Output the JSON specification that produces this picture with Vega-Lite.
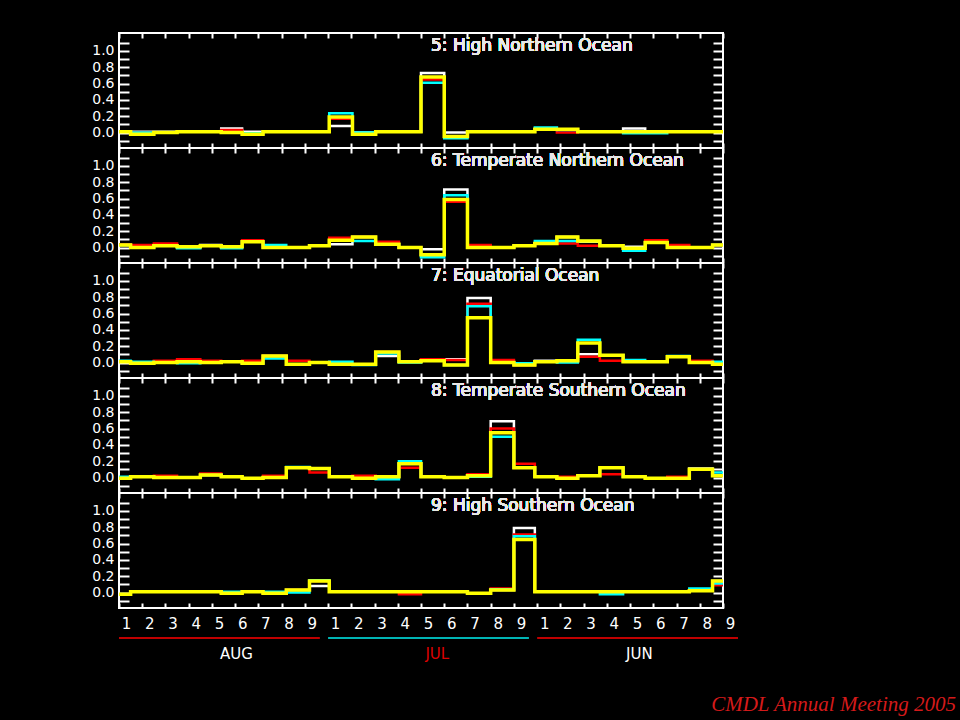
{
"$schema": "https://vega.github.io/schema/vega-lite/v6.json",
"background": "black",
"padding": {"left": 90, "top": 31, "right": 5, "bottom": 5},
"spacing": 0,
"bounds": "flush",
"config": {
  "view": {"stroke": "white", "strokeWidth": 2},
  "axis": {"tickColor": "white", "tickWidth": 2, "labelColor": "white", "labelFont": "DejaVu Sans", "labelFontSize": 14, "grid": false, "domain": false, "labelFlush": false, "labelOverlap": false},
  "text": {"font": "DejaVu Sans"}
},
"title": {"text": "CMDL Annual Meeting 2005", "orient": "bottom", "anchor": "end", "frame": "group", "dx": 233, "offset": 26, "color": "#d41a1a", "font": "Liberation Serif", "fontStyle": "italic", "fontWeight": "normal", "fontSize": 21},
"datasets": {
"p5": [
{"x":0,"w":0.01,"r":0.01,"c":0.01,"yel":0.01},
{"x":0.5,"w":0.01,"r":0,"c":0,"yel":-0.02},
{"x":1.5,"w":0.01,"r":0,"c":0,"yel":0},
{"x":2.5,"w":0.01,"r":0.01,"c":0.01,"yel":0.01},
{"x":3.5,"w":0.01,"r":0.01,"c":0.01,"yel":0.01},
{"x":4.4,"w":0.05,"r":0.03,"c":0,"yel":0},
{"x":5.3,"w":0.01,"r":-0.01,"c":-0.01,"yel":-0.02},
{"x":6.2,"w":0.01,"r":0.01,"c":0.01,"yel":0.01},
{"x":7.2,"w":0.01,"r":0.01,"c":0.01,"yel":0.01},
{"x":8.2,"w":0.01,"r":0.01,"c":0.01,"yel":0.01},
{"x":9.05,"w":0.08,"r":0.17,"c":0.235,"yel":0.19},
{"x":10.05,"w":0,"r":-0.02,"c":0,"yel":-0.02},
{"x":11.05,"w":0.01,"r":0.01,"c":0.01,"yel":0.01},
{"x":12.05,"w":0.01,"r":0.01,"c":0.01,"yel":0.01},
{"x":13,"w":0.73,"r":0.65,"c":0.61,"yel":0.68},
{"x":14,"w":0,"r":-0.05,"c":-0.07,"yel":-0.05},
{"x":15,"w":0.01,"r":0.01,"c":0.01,"yel":0.01},
{"x":16,"w":0.01,"r":0.01,"c":0.01,"yel":0.01},
{"x":17,"w":0.01,"r":0.01,"c":0.01,"yel":0.01},
{"x":17.9,"w":0.04,"r":0.04,"c":0.06,"yel":0.04},
{"x":18.85,"w":0.04,"r":0,"c":0.03,"yel":0.04},
{"x":19.75,"w":0.01,"r":0.01,"c":0.01,"yel":0.01},
{"x":20.7,"w":0.01,"r":0.01,"c":0.01,"yel":0.01},
{"x":21.7,"w":0.05,"r":0.01,"c":-0.01,"yel":0.01},
{"x":22.65,"w":0.01,"r":0.01,"c":-0.01,"yel":0.01},
{"x":23.6,"w":0.01,"r":0.01,"c":0.01,"yel":0.01},
{"x":24.55,"w":0.01,"r":0.01,"c":0.01,"yel":0.01},
{"x":25.55,"w":0.01,"r":0.01,"c":0.01,"yel":0.01},
{"x":26,"w":0.01,"r":0.01,"c":0.01,"yel":0.01}
],
"p6": [
{"x":0,"w":0.03,"r":0.04,"c":0.03,"yel":0.03},
{"x":0.5,"w":0,"r":0.03,"c":0,"yel":0},
{"x":1.5,"w":0.02,"r":0.05,"c":0.02,"yel":0.02},
{"x":2.5,"w":0.01,"r":0.01,"c":-0.01,"yel":0.01},
{"x":3.5,"w":0.03,"r":0.02,"c":0.02,"yel":0.02},
{"x":4.4,"w":0.01,"r":0.01,"c":-0.01,"yel":0.01},
{"x":5.3,"w":0.07,"r":0.09,"c":0.07,"yel":0.07},
{"x":6.2,"w":0,"r":0,"c":0.03,"yel":0},
{"x":7.2,"w":0,"r":0,"c":0,"yel":0},
{"x":8.2,"w":0.02,"r":0.02,"c":0.02,"yel":0.02},
{"x":9.05,"w":0.04,"r":0.12,"c":0.09,"yel":0.09},
{"x":10.05,"w":0.13,"r":0.13,"c":0.08,"yel":0.13},
{"x":11.05,"w":0.04,"r":0.07,"c":0.04,"yel":0.04},
{"x":12.05,"w":0,"r":0,"c":0,"yel":0},
{"x":13,"w":-0.02,"r":-0.09,"c":-0.12,"yel":-0.09},
{"x":14,"w":0.71,"r":0.56,"c":0.64,"yel":0.59},
{"x":15,"w":0,"r":0.03,"c":0,"yel":0},
{"x":16,"w":0,"r":0,"c":0,"yel":0},
{"x":17,"w":0.02,"r":0.02,"c":0.02,"yel":0.02},
{"x":17.9,"w":0.05,"r":0.05,"c":0.08,"yel":0.05},
{"x":18.85,"w":0.13,"r":0.05,"c":0.08,"yel":0.13},
{"x":19.75,"w":0.07,"r":0.02,"c":0.08,"yel":0.08},
{"x":20.7,"w":0.02,"r":0.02,"c":0.02,"yel":0.02},
{"x":21.7,"w":0.01,"r":-0.01,"c":-0.04,"yel":-0.01},
{"x":22.65,"w":0.06,"r":0.09,"c":0.06,"yel":0.06},
{"x":23.6,"w":0,"r":0.03,"c":0,"yel":0},
{"x":24.55,"w":0,"r":0,"c":0,"yel":0},
{"x":25.55,"w":0.03,"r":0.03,"c":0.03,"yel":0.03},
{"x":26,"w":0.03,"r":0.03,"c":0.03,"yel":0.03}
],
"p7": [
{"x":0,"w":0.01,"r":0.01,"c":0.02,"yel":0.01},
{"x":0.5,"w":-0.01,"r":-0.01,"c":0.01,"yel":-0.01},
{"x":1.5,"w":0,"r":0.02,"c":0,"yel":0},
{"x":2.5,"w":0.01,"r":0.04,"c":-0.01,"yel":0.01},
{"x":3.5,"w":0,"r":0.02,"c":0,"yel":0},
{"x":4.4,"w":0.01,"r":0.01,"c":0.01,"yel":0.01},
{"x":5.3,"w":-0.01,"r":0.02,"c":-0.01,"yel":-0.01},
{"x":6.2,"w":0.08,"r":0.08,"c":0.05,"yel":0.08},
{"x":7.2,"w":-0.02,"r":0.02,"c":-0.02,"yel":-0.02},
{"x":8.2,"w":0,"r":0,"c":0,"yel":0},
{"x":9.05,"w":-0.02,"r":-0.02,"c":0.01,"yel":-0.02},
{"x":10.05,"w":-0.02,"r":-0.02,"c":-0.03,"yel":-0.02},
{"x":11.05,"w":0.08,"r":0.13,"c":0.11,"yel":0.13},
{"x":12.05,"w":0.01,"r":0.01,"c":0,"yel":0.01},
{"x":13,"w":0.02,"r":0.04,"c":0.02,"yel":0.02},
{"x":14,"w":0.04,"r":0.03,"c":-0.03,"yel":-0.03},
{"x":15,"w":0.79,"r":0.72,"c":0.69,"yel":0.55},
{"x":16,"w":0,"r":0.03,"c":0,"yel":0},
{"x":17,"w":-0.03,"r":-0.03,"c":-0.01,"yel":-0.03},
{"x":17.9,"w":0.02,"r":0.01,"c":0.01,"yel":0.01},
{"x":18.85,"w":0.02,"r":0.02,"c":0,"yel":0.02},
{"x":19.75,"w":0.1,"r":0.07,"c":0.28,"yel":0.24},
{"x":20.7,"w":0.09,"r":0.02,"c":0.09,"yel":0.09},
{"x":21.7,"w":0.01,"r":0.01,"c":0.03,"yel":0.01},
{"x":22.65,"w":0.01,"r":0.01,"c":0.01,"yel":0.01},
{"x":23.6,"w":0.07,"r":0.07,"c":0.08,"yel":0.07},
{"x":24.55,"w":0,"r":0.02,"c":0,"yel":0},
{"x":25.55,"w":-0.02,"r":-0.02,"c":0.01,"yel":-0.02},
{"x":26,"w":-0.02,"r":-0.02,"c":0.01,"yel":-0.02}
],
"p8": [
{"x":0,"w":-0.01,"r":-0.01,"c":0.01,"yel":-0.01},
{"x":0.5,"w":0.01,"r":0.01,"c":0.01,"yel":0.01},
{"x":1.5,"w":0,"r":0.02,"c":0,"yel":0},
{"x":2.5,"w":0,"r":0,"c":0,"yel":0},
{"x":3.5,"w":0.03,"r":0.05,"c":0.03,"yel":0.03},
{"x":4.4,"w":0.01,"r":0.01,"c":0.01,"yel":0.01},
{"x":5.3,"w":-0.01,"r":-0.01,"c":-0.01,"yel":-0.01},
{"x":6.2,"w":0,"r":0.02,"c":0,"yel":0},
{"x":7.2,"w":0.12,"r":0.12,"c":0.13,"yel":0.12},
{"x":8.2,"w":0.11,"r":0.06,"c":0.11,"yel":0.11},
{"x":9.05,"w":0.01,"r":0.01,"c":0.01,"yel":0.01},
{"x":10.05,"w":-0.01,"r":0.02,"c":-0.01,"yel":-0.01},
{"x":11.05,"w":0.01,"r":0.01,"c":-0.02,"yel":0.01},
{"x":12.05,"w":0.17,"r":0.12,"c":0.2,"yel":0.17},
{"x":13,"w":0.01,"r":0.01,"c":0.01,"yel":0.01},
{"x":14,"w":0,"r":0,"c":0,"yel":0},
{"x":15,"w":0.02,"r":0.04,"c":0.01,"yel":0.02},
{"x":16,"w":0.69,"r":0.6,"c":0.5,"yel":0.55},
{"x":17,"w":0.12,"r":0.17,"c":0.12,"yel":0.12},
{"x":17.9,"w":0.01,"r":0.01,"c":0.01,"yel":0.01},
{"x":18.85,"w":-0.01,"r":0.01,"c":-0.01,"yel":-0.01},
{"x":19.75,"w":0.02,"r":0.02,"c":0.02,"yel":0.02},
{"x":20.7,"w":0.12,"r":0.04,"c":0.12,"yel":0.12},
{"x":21.7,"w":0.01,"r":0.01,"c":0.01,"yel":0.01},
{"x":22.65,"w":-0.01,"r":-0.01,"c":-0.01,"yel":-0.01},
{"x":23.6,"w":-0.01,"r":0.01,"c":-0.01,"yel":-0.01},
{"x":24.55,"w":0.11,"r":0.1,"c":0.1,"yel":0.1},
{"x":25.55,"w":0.02,"r":0.02,"c":0.06,"yel":0.02},
{"x":26,"w":0.02,"r":0.02,"c":0.06,"yel":0.02}
],
"p9": [
{"x":0,"w":-0.02,"r":-0.02,"c":-0.02,"yel":-0.02},
{"x":0.5,"w":0.01,"r":0.01,"c":0.01,"yel":0.01},
{"x":1.5,"w":0.01,"r":0.01,"c":0.01,"yel":0.01},
{"x":2.5,"w":0.01,"r":0.01,"c":0.01,"yel":0.01},
{"x":3.5,"w":0.01,"r":0.01,"c":0.01,"yel":0.01},
{"x":4.4,"w":-0.01,"r":-0.01,"c":0.01,"yel":-0.01},
{"x":5.3,"w":0.01,"r":0.01,"c":0.01,"yel":0.01},
{"x":6.2,"w":-0.01,"r":-0.01,"c":0.01,"yel":-0.01},
{"x":7.2,"w":0.03,"r":0.03,"c":0,"yel":0.03},
{"x":8.2,"w":0.08,"r":0.14,"c":0.15,"yel":0.14},
{"x":9.05,"w":0.01,"r":0.01,"c":0.01,"yel":0.01},
{"x":10.05,"w":0.01,"r":0.01,"c":0.01,"yel":0.01},
{"x":11.05,"w":0.01,"r":0.01,"c":0.01,"yel":0.01},
{"x":12.05,"w":0.01,"r":-0.02,"c":0.01,"yel":0.01},
{"x":13,"w":0.01,"r":0.01,"c":0.01,"yel":0.01},
{"x":14,"w":0.01,"r":0.01,"c":0.01,"yel":0.01},
{"x":15,"w":-0.01,"r":-0.01,"c":-0.01,"yel":-0.01},
{"x":16,"w":0.03,"r":0.05,"c":0.04,"yel":0.03},
{"x":17,"w":0.79,"r":0.71,"c":0.69,"yel":0.65},
{"x":17.9,"w":0.01,"r":0.01,"c":0.01,"yel":0.01},
{"x":18.85,"w":0.01,"r":0.01,"c":0.01,"yel":0.01},
{"x":19.75,"w":0.01,"r":0.01,"c":0.01,"yel":0.01},
{"x":20.7,"w":0.01,"r":0.01,"c":-0.02,"yel":0.01},
{"x":21.7,"w":0.01,"r":0.01,"c":0.01,"yel":0.01},
{"x":22.65,"w":0.01,"r":0.01,"c":0.01,"yel":0.01},
{"x":23.6,"w":0.01,"r":0.01,"c":0.01,"yel":0.01},
{"x":24.55,"w":0.02,"r":0.02,"c":0.05,"yel":0.02},
{"x":25.55,"w":0.14,"r":0.09,"c":0.11,"yel":0.14},
{"x":26,"w":0.14,"r":0.09,"c":0.11,"yel":0.14}
],
"months": [
{"month":"AUG","first":0,"last":8,"mid":5.06},
{"month":"JUL","first":9,"last":17,"mid":13.7},
{"month":"JUN","first":18,"last":26,"mid":22.4}
]
},
"vconcat": [
{"width":604,"height":115,"data":{"name":"p5"},"resolve":{"axis":{"x":"independent","y":"independent"}},"layer":[
 {"mark":{"type":"line","interpolate":"step-after","color":"#ffffff","strokeWidth":2.5,"clip":true},"encoding":{"x":{"field":"x","type":"quantitative","scale":{"domain":[0,26],"nice":false,"zero":false},"axis":{"orient":"bottom","values":[0,1,2,3,4,5,6,7,8,9,10,11,12,13,14,15,16,17,18,19,20,21,22,23,24,25,26],"labels":false,"tickSize":-5,"title":null}},"y":{"field":"w","type":"quantitative","scale":{"domain":[-0.19,1.22],"nice":false,"zero":false},"axis":{"orient":"left","values":[-0.1,0,0.1,0.2,0.3,0.4,0.5,0.6,0.7,0.8,0.9,1,1.1],"tickSize":-10,"labelPadding":15,"labelExpr":"datum.value > -0.05 && round(datum.value*10) % 2 == 0 ? format(datum.value, '.1f') : ''","title":null}}}},
 {"mark":{"type":"line","interpolate":"step-after","color":"#ff0000","strokeWidth":2.5,"clip":true},"encoding":{"x":{"field":"x","type":"quantitative","axis":{"orient":"top","values":[0,1,2,3,4,5,6,7,8,9,10,11,12,13,14,15,16,17,18,19,20,21,22,23,24,25,26],"labels":false,"tickSize":-5,"title":null}},"y":{"field":"r","type":"quantitative","axis":{"orient":"right","values":[-0.1,0,0.1,0.2,0.3,0.4,0.5,0.6,0.7,0.8,0.9,1,1.1],"labels":false,"tickSize":-10,"title":null}}}},
 {"mark":{"type":"line","interpolate":"step-after","color":"#00ffff","strokeWidth":2.5,"clip":true},"encoding":{"x":{"field":"x","type":"quantitative","axis":null},"y":{"field":"c","type":"quantitative","axis":null}}},
 {"mark":{"type":"line","interpolate":"step-after","color":"#ffff00","strokeWidth":3.5,"clip":true},"encoding":{"x":{"field":"x","type":"quantitative","axis":null},"y":{"field":"yel","type":"quantitative","axis":null}}},
 {"mark":{"type":"text","align":"left","baseline":"middle","color":"#e8e8e8","fontSize":17,"fontWeight":"normal"},"encoding":{"x":{"datum":13.43,"type":"quantitative","axis":null},"y":{"datum":1.065,"type":"quantitative","axis":null},"text":{"value":"5: High Northern Ocean"}}}
]},
{"width":604,"height":115,"data":{"name":"p6"},"resolve":{"axis":{"x":"independent","y":"independent"}},"layer":[
 {"mark":{"type":"line","interpolate":"step-after","color":"#ffffff","strokeWidth":2.5,"clip":true},"encoding":{"x":{"field":"x","type":"quantitative","scale":{"domain":[0,26],"nice":false,"zero":false},"axis":{"orient":"bottom","values":[0,1,2,3,4,5,6,7,8,9,10,11,12,13,14,15,16,17,18,19,20,21,22,23,24,25,26],"labels":false,"tickSize":-5,"title":null}},"y":{"field":"w","type":"quantitative","scale":{"domain":[-0.19,1.22],"nice":false,"zero":false},"axis":{"orient":"left","values":[-0.1,0,0.1,0.2,0.3,0.4,0.5,0.6,0.7,0.8,0.9,1,1.1],"tickSize":-10,"labelPadding":15,"labelExpr":"datum.value > -0.05 && round(datum.value*10) % 2 == 0 ? format(datum.value, '.1f') : ''","title":null}}}},
 {"mark":{"type":"line","interpolate":"step-after","color":"#ff0000","strokeWidth":2.5,"clip":true},"encoding":{"x":{"field":"x","type":"quantitative","axis":{"orient":"top","values":[0,1,2,3,4,5,6,7,8,9,10,11,12,13,14,15,16,17,18,19,20,21,22,23,24,25,26],"labels":false,"tickSize":-5,"title":null}},"y":{"field":"r","type":"quantitative","axis":{"orient":"right","values":[-0.1,0,0.1,0.2,0.3,0.4,0.5,0.6,0.7,0.8,0.9,1,1.1],"labels":false,"tickSize":-10,"title":null}}}},
 {"mark":{"type":"line","interpolate":"step-after","color":"#00ffff","strokeWidth":2.5,"clip":true},"encoding":{"x":{"field":"x","type":"quantitative","axis":null},"y":{"field":"c","type":"quantitative","axis":null}}},
 {"mark":{"type":"line","interpolate":"step-after","color":"#ffff00","strokeWidth":3.5,"clip":true},"encoding":{"x":{"field":"x","type":"quantitative","axis":null},"y":{"field":"yel","type":"quantitative","axis":null}}},
 {"mark":{"type":"text","align":"left","baseline":"middle","color":"#e8e8e8","fontSize":17,"fontWeight":"normal"},"encoding":{"x":{"datum":13.43,"type":"quantitative","axis":null},"y":{"datum":1.065,"type":"quantitative","axis":null},"text":{"value":"6: Temperate Northern Ocean"}}}
]},
{"width":604,"height":115,"data":{"name":"p7"},"resolve":{"axis":{"x":"independent","y":"independent"}},"layer":[
 {"mark":{"type":"line","interpolate":"step-after","color":"#ffffff","strokeWidth":2.5,"clip":true},"encoding":{"x":{"field":"x","type":"quantitative","scale":{"domain":[0,26],"nice":false,"zero":false},"axis":{"orient":"bottom","values":[0,1,2,3,4,5,6,7,8,9,10,11,12,13,14,15,16,17,18,19,20,21,22,23,24,25,26],"labels":false,"tickSize":-5,"title":null}},"y":{"field":"w","type":"quantitative","scale":{"domain":[-0.19,1.22],"nice":false,"zero":false},"axis":{"orient":"left","values":[-0.1,0,0.1,0.2,0.3,0.4,0.5,0.6,0.7,0.8,0.9,1,1.1],"tickSize":-10,"labelPadding":15,"labelExpr":"datum.value > -0.05 && round(datum.value*10) % 2 == 0 ? format(datum.value, '.1f') : ''","title":null}}}},
 {"mark":{"type":"line","interpolate":"step-after","color":"#ff0000","strokeWidth":2.5,"clip":true},"encoding":{"x":{"field":"x","type":"quantitative","axis":{"orient":"top","values":[0,1,2,3,4,5,6,7,8,9,10,11,12,13,14,15,16,17,18,19,20,21,22,23,24,25,26],"labels":false,"tickSize":-5,"title":null}},"y":{"field":"r","type":"quantitative","axis":{"orient":"right","values":[-0.1,0,0.1,0.2,0.3,0.4,0.5,0.6,0.7,0.8,0.9,1,1.1],"labels":false,"tickSize":-10,"title":null}}}},
 {"mark":{"type":"line","interpolate":"step-after","color":"#00ffff","strokeWidth":2.5,"clip":true},"encoding":{"x":{"field":"x","type":"quantitative","axis":null},"y":{"field":"c","type":"quantitative","axis":null}}},
 {"mark":{"type":"line","interpolate":"step-after","color":"#ffff00","strokeWidth":3.5,"clip":true},"encoding":{"x":{"field":"x","type":"quantitative","axis":null},"y":{"field":"yel","type":"quantitative","axis":null}}},
 {"mark":{"type":"text","align":"left","baseline":"middle","color":"#e8e8e8","fontSize":17,"fontWeight":"normal"},"encoding":{"x":{"datum":13.43,"type":"quantitative","axis":null},"y":{"datum":1.065,"type":"quantitative","axis":null},"text":{"value":"7: Equatorial Ocean"}}}
]},
{"width":604,"height":115,"data":{"name":"p8"},"resolve":{"axis":{"x":"independent","y":"independent"}},"layer":[
 {"mark":{"type":"line","interpolate":"step-after","color":"#ffffff","strokeWidth":2.5,"clip":true},"encoding":{"x":{"field":"x","type":"quantitative","scale":{"domain":[0,26],"nice":false,"zero":false},"axis":{"orient":"bottom","values":[0,1,2,3,4,5,6,7,8,9,10,11,12,13,14,15,16,17,18,19,20,21,22,23,24,25,26],"labels":false,"tickSize":-5,"title":null}},"y":{"field":"w","type":"quantitative","scale":{"domain":[-0.19,1.22],"nice":false,"zero":false},"axis":{"orient":"left","values":[-0.1,0,0.1,0.2,0.3,0.4,0.5,0.6,0.7,0.8,0.9,1,1.1],"tickSize":-10,"labelPadding":15,"labelExpr":"datum.value > -0.05 && round(datum.value*10) % 2 == 0 ? format(datum.value, '.1f') : ''","title":null}}}},
 {"mark":{"type":"line","interpolate":"step-after","color":"#ff0000","strokeWidth":2.5,"clip":true},"encoding":{"x":{"field":"x","type":"quantitative","axis":{"orient":"top","values":[0,1,2,3,4,5,6,7,8,9,10,11,12,13,14,15,16,17,18,19,20,21,22,23,24,25,26],"labels":false,"tickSize":-5,"title":null}},"y":{"field":"r","type":"quantitative","axis":{"orient":"right","values":[-0.1,0,0.1,0.2,0.3,0.4,0.5,0.6,0.7,0.8,0.9,1,1.1],"labels":false,"tickSize":-10,"title":null}}}},
 {"mark":{"type":"line","interpolate":"step-after","color":"#00ffff","strokeWidth":2.5,"clip":true},"encoding":{"x":{"field":"x","type":"quantitative","axis":null},"y":{"field":"c","type":"quantitative","axis":null}}},
 {"mark":{"type":"line","interpolate":"step-after","color":"#ffff00","strokeWidth":3.5,"clip":true},"encoding":{"x":{"field":"x","type":"quantitative","axis":null},"y":{"field":"yel","type":"quantitative","axis":null}}},
 {"mark":{"type":"text","align":"left","baseline":"middle","color":"#e8e8e8","fontSize":17,"fontWeight":"normal"},"encoding":{"x":{"datum":13.43,"type":"quantitative","axis":null},"y":{"datum":1.065,"type":"quantitative","axis":null},"text":{"value":"8: Temperate Southern Ocean"}}}
]},
{"width":604,"height":115,"data":{"name":"p9"},"resolve":{"axis":{"x":"independent","y":"independent"}},"layer":[
 {"mark":{"type":"line","interpolate":"step-after","color":"#ffffff","strokeWidth":2.5,"clip":true},"encoding":{"x":{"field":"x","type":"quantitative","scale":{"domain":[0,26],"nice":false,"zero":false},"axis":{"orient":"bottom","values":[0,1,2,3,4,5,6,7,8,9,10,11,12,13,14,15,16,17,18,19,20,21,22,23,24,25,26],"labels":true,"tickSize":-5,"labelPadding":13,"labelOffset":7,"labelFontSize":15,"labelExpr":"'' + ((datum.value % 9) + 1)","title":null}},"y":{"field":"w","type":"quantitative","scale":{"domain":[-0.19,1.22],"nice":false,"zero":false},"axis":{"orient":"left","values":[-0.1,0,0.1,0.2,0.3,0.4,0.5,0.6,0.7,0.8,0.9,1,1.1],"tickSize":-10,"labelPadding":15,"labelExpr":"datum.value > -0.05 && round(datum.value*10) % 2 == 0 ? format(datum.value, '.1f') : ''","title":null}}}},
 {"mark":{"type":"line","interpolate":"step-after","color":"#ff0000","strokeWidth":2.5,"clip":true},"encoding":{"x":{"field":"x","type":"quantitative","axis":{"orient":"top","values":[0,1,2,3,4,5,6,7,8,9,10,11,12,13,14,15,16,17,18,19,20,21,22,23,24,25,26],"labels":false,"tickSize":-5,"title":null}},"y":{"field":"r","type":"quantitative","axis":{"orient":"right","values":[-0.1,0,0.1,0.2,0.3,0.4,0.5,0.6,0.7,0.8,0.9,1,1.1],"labels":false,"tickSize":-10,"title":null}}}},
 {"mark":{"type":"line","interpolate":"step-after","color":"#00ffff","strokeWidth":2.5,"clip":true},"encoding":{"x":{"field":"x","type":"quantitative","axis":null},"y":{"field":"c","type":"quantitative","axis":null}}},
 {"mark":{"type":"line","interpolate":"step-after","color":"#ffff00","strokeWidth":3.5,"clip":true},"encoding":{"x":{"field":"x","type":"quantitative","axis":null},"y":{"field":"yel","type":"quantitative","axis":null}}},
 {"mark":{"type":"text","align":"left","baseline":"middle","color":"#e8e8e8","fontSize":17,"fontWeight":"normal"},"encoding":{"x":{"datum":13.43,"type":"quantitative","axis":null},"y":{"datum":1.065,"type":"quantitative","axis":null},"text":{"value":"9: High Southern Ocean"}}}
]},
{"width":604,"height":60,"view":{"stroke":null},"data":{"name":"months"},"resolve":{"scale":{"color":"independent"}},"layer":[
 {"mark":{"type":"rule","strokeWidth":2,"x2Offset":15},"encoding":{"x":{"field":"first","type":"quantitative","scale":{"domain":[0,26],"nice":false,"zero":false},"axis":null},"x2":{"field":"last"},"color":{"field":"month","type":"nominal","scale":{"domain":["AUG","JUL","JUN"],"range":["#c00000","#00b4b4","#c00000"]},"legend":null}}},
 {"mark":{"type":"text","fontSize":15,"dy":16,"baseline":"middle","align":"center"},"encoding":{"x":{"field":"mid","type":"quantitative","axis":null},"text":{"field":"month"},"color":{"field":"month","type":"nominal","scale":{"domain":["AUG","JUL","JUN"],"range":["#ffffff","#dd0000","#ffffff"]},"legend":null}}}
]}
]
}
